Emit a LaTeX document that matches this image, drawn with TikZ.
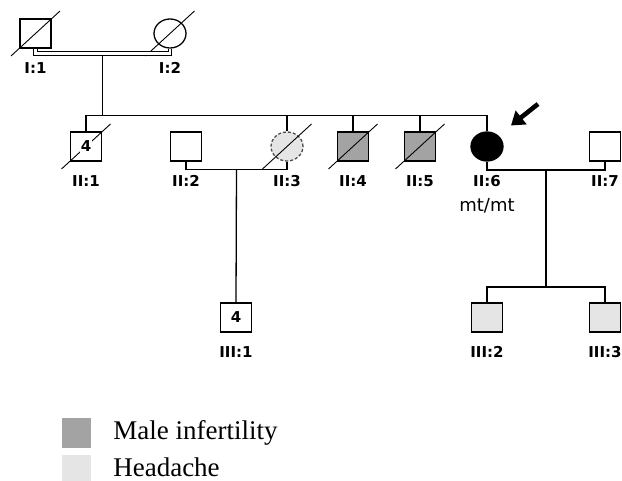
\documentclass[tikz,border=0pt]{standalone}
\usepackage{fontspec}
\setmainfont{Liberation Serif}
\newfontfamily\pedfont{DejaVu Sans}
\usetikzlibrary{calc,positioning,shapes.geometric,arrows.meta}
\definecolor{infertgray}{gray}{0.64}
\definecolor{headgray}{gray}{0.9}
\tikzstyle{pedigree}=[
    x=1pt, y=-1pt, line width=1.3pt, node distance=13pt,
    every node/.style={inner sep=0pt},
    male/.style={draw, rectangle, minimum width=31pt, minimum height=29pt,
        font=\pedfont\bfseries\fontsize{15}{15}\selectfont},
    female/.style={draw, ellipse, minimum width=32pt, minimum height=29pt},
    idlabel/.style={font=\pedfont\bfseries\fontsize{15}{15}\selectfont},
    legendbox/.style={minimum width=29pt, minimum height=30pt},
    legendtext/.style={font=\fontsize{27}{27}\selectfont},
]
\newcommand{\deceased}[1]{\draw[line width=0.9pt] (#1.center) ++(-24.5,22.5) -- ++(49,-45);}

\begin{document}
\begin{tikzpicture}[pedigree]
        \useasboundingbox (0,0) rectangle (622,481);

        % generation I
        \node[male] (i1) at (35.5,33.5) {};
        \node[female] (i2) at (170,33.5) {};
        % generation II
        \node[male] (ii1) at (86,146.5) {};
        \node[male] (ii2) at (186,146.5) {};
        \node[female, fill=headgray, draw=black!70, densely dashed] (ii3) at (287,146.5) {};
        \node[male, fill=infertgray] (ii4) at (353,146.5) {};
        \node[male, fill=infertgray] (ii5) at (420,146.5) {};
        \node[female, fill=black] (ii6) at (487,146.5) {};
        \node[male] (ii7) at (605,146.5) {};
        % generation III
        \node[male] (iii1) at (236,317.5) {4};
        \node[male, fill=headgray] (iii2) at (487,317.5) {};
        \node[male, fill=headgray] (iii3) at (605,317.5) {};

        \foreach \n in {i1,i2,ii1,ii3,ii4,ii5} {\deceased{\n}}
        \node[fill=white, inner sep=1pt, font=\pedfont\bfseries\fontsize{15}{15}\selectfont] (ii1-num) at (ii1) {4};

        \foreach \n/\t in {i1/I:1, i2/I:2, ii1/II:1, ii2/II:2, ii3/II:3, ii4/II:4, ii5/II:5, ii6/II:6, ii7/II:7, iii1/III:1, iii2/III:2, iii3/III:3}
            \node[idlabel, below=of \n] (\n-lab) {\t};
        \node[below=10pt of ii6-lab, font=\pedfont\fontsize{18}{18}\selectfont] (ii6-gen) {mt/mt};

        % marriages and descent
        \draw[double, double distance=2.4pt, line width=1pt] (i1.south) -- ++(0,5) -| (i2.south);
        \coordinate (m1) at ($(i1.south)!0.5!(i2.south)+(0,5)$);
        \coordinate (sib2) at ($(m1)+(0,62)$);
        \draw ([yshift=-2.2pt]m1) -- (sib2);
        \draw (ii1.north) |- (sib2) -| (ii6.north);
        \foreach \n in {ii3,ii4,ii5} \draw (\n.north) -- (\n.north |- sib2);

        \draw (ii2.south) -- ++(0,8) -| (ii3.south);
        \coordinate (m2) at ($(ii2.south)!0.5!(ii3.south)+(0,8)$);
        \draw (m2) -- (iii1.north);

        \draw (ii6.south) -- ++(0,8.5) -| (ii7.south);
        \coordinate (m3) at ($(ii6.south)!0.5!(ii7.south)+(0,8.5)$);
        \coordinate (sib3) at ($(m3)+(0,117)$);
        \draw (m3) -- (sib3);
        \draw (iii2.north) |- (sib3) -| (iii3.north);

        % proband
        \coordinate (proband-tail) at ([shift={(51,-42.5)}]ii6.center);
        \coordinate (proband-tip) at ([shift={(24,-21)}]ii6.center);
        \draw[line width=4.6pt, -{Triangle[length=13pt,width=17pt]}] (proband-tail) -- (proband-tip);

        % legend
        \node[legendbox, fill=infertgray] (leg-mi) at (76.5,433) {};
        \node[legendbox, fill=headgray] (leg-ha) at (76.5,470) {};
        \node[legendtext, right=21pt of leg-mi] (leg-mi-text) {Male infertility};
        \node[legendtext, right=21pt of leg-ha, yshift=3pt] (leg-ha-text) {Headache};
    \end{tikzpicture}
\end{document}
